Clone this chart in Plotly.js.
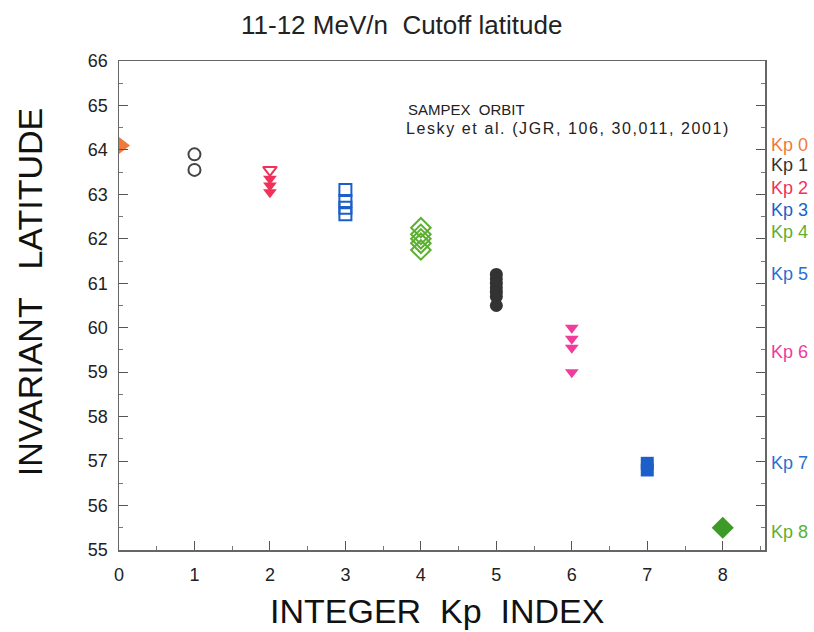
<!DOCTYPE html>
<html><head><meta charset="utf-8">
<script src="https://cdn.plot.ly/plotly-3.0.1.min.js"></script>
<style>body{margin:0;background:#fff}#c{width:814px;height:632px}</style>
</head><body><div id="c"></div>
<script>
const kp0 = [64.1];
const kp1 = [63.9, 63.55];
const kp2open = [63.55];
const kp2 = [63.35, 63.2, 63.05];
const kp3 = [63.1, 62.85, 62.7, 62.55];
const kp4 = [62.25, 62.1, 62.0, 61.9, 61.75];
const kp5 = [61.2, 61.1, 61.0, 60.9, 60.8, 60.7, 60.5];
const kp6 = [60.0, 59.75, 59.55, 59.0];
const kp7 = [56.95, 56.8];
const kp8 = [55.5];
const labels = ["Kp 0","Kp 1","Kp 2","Kp 3","Kp 4","Kp 5","Kp 6","Kp 7","Kp 8"];
const labelY = [64.1, 63.65, 63.15, 62.65, 62.15, 61.2, 59.45, 56.95, 55.4];
const labelColors = ["#f07a3a","#333333","#f0325a","#1c5fc8","#5cb030","#2a6fd0","#f03c9c","#2a6fd0","#5cb030"];

function tr(kp, ys, symbol, color, size, open){
  return {type:'scatter', mode:'markers', x: ys.map(()=>kp), y: ys,
    marker:{symbol: symbol + (open?'-open':''), size: size, color: color, line:{width: open?2:0, color: color}},
    showlegend:false, hoverinfo:'skip', cliponaxis:true};
}
const data = [
  tr(0, kp0, 'triangle-right', '#f07a3a', 22, false),
  tr(1, kp1, 'circle', '#444444', 12, true),
  tr(2, kp2, 'triangle-down', '#f0325a', 12, false),
  tr(2, kp2open, 'triangle-down', '#f0325a', 12, true),
  tr(3, kp3, 'square', '#1c5fc8', 12, true),
  tr(4, kp4, 'diamond', '#5cb030', 15, true),
  tr(5, kp5, 'circle', '#333333', 13, false),
  tr(6, kp6, 'triangle-down', '#f03c9c', 12, false),
  tr(7, kp7, 'square', '#1c5fc8', 13, false),
  tr(8, kp8, 'diamond', '#3c9a28', 17, false)
];
const F = 'Liberation Sans, Arial';
const ann = labels.map((t,i)=>({text:t, xref:'paper', yref:'y', x:1.006, y:labelY[i], xanchor:'left', yanchor:'middle',
  showarrow:false, font:{family:F, size:18, color:labelColors[i]}}));
ann.push({text:'SAMPEX  ORBIT', xref:'x', yref:'y', x:3.8, y:64.92, xanchor:'left', yanchor:'middle', showarrow:false,
  font:{family:F, size:15, color:'#222'}});
ann.push({text:'<span style="letter-spacing:1.6px">Lesky et al. (JGR, 106, 30,011, 2001)</span>', xref:'x', yref:'y', x:3.77, y:64.48, xanchor:'left', yanchor:'middle', showarrow:false,
  font:{family:F, size:16, color:'#222'}});
ann.push({text:'INVARIANT   LATITUDE', xref:'paper', yref:'y', x:-0.1378, y:60.8, xanchor:'center', yanchor:'middle', textangle:-90,
  showarrow:false, font:{family:F, size:34, color:'#111'}});
ann.push({text:'INTEGER  Kp  INDEX', xref:'x', yref:'paper', x:4.21, y:-0.1247, xanchor:'center', yanchor:'middle',
  showarrow:false, font:{family:F, size:34, color:'#111'}});
ann.push({text:'11-12 MeV/n  Cutoff latitude', xref:'x', yref:'paper', x:(402-119)/75.5, y:(550-25)/489, xanchor:'center', yanchor:'middle',
  showarrow:false, font:{family:F, size:26, color:'#222'}});
const layout = {
  width:814, height:632,
  margin:{l:119, r:49, t:61, b:82},
  paper_bgcolor:'#fff', plot_bgcolor:'#fff',
  font:{family:F, color:'#222'},
  xaxis:{range:[0,8.56], tickvals:[0,1,2,3,4,5,6,7,8], ticks:'inside', ticklen:9, tickcolor:'#555',
    minor:{dtick:0.5, ticks:'inside', ticklen:4, tickcolor:'#777'},
    showline:true, linecolor:'#666', linewidth:1.5, mirror:true, showgrid:false, zeroline:false,
    tickfont:{size:18, color:'#222'}, ticklabelstandoff:8},
  yaxis:{range:[55,66], dtick:1, ticks:'inside', ticklen:9, tickcolor:'#555',
    minor:{dtick:0.5, ticks:'inside', ticklen:4, tickcolor:'#777'},
    showline:true, linecolor:'#666', linewidth:1.5, mirror:'ticks', showgrid:false, zeroline:false,
    tickfont:{size:18, color:'#222'}, ticklabelstandoff:6},
  annotations: ann
};
Plotly.newPlot('c', data, layout, {staticPlot:true, displayModeBar:false});
</script></body></html>
